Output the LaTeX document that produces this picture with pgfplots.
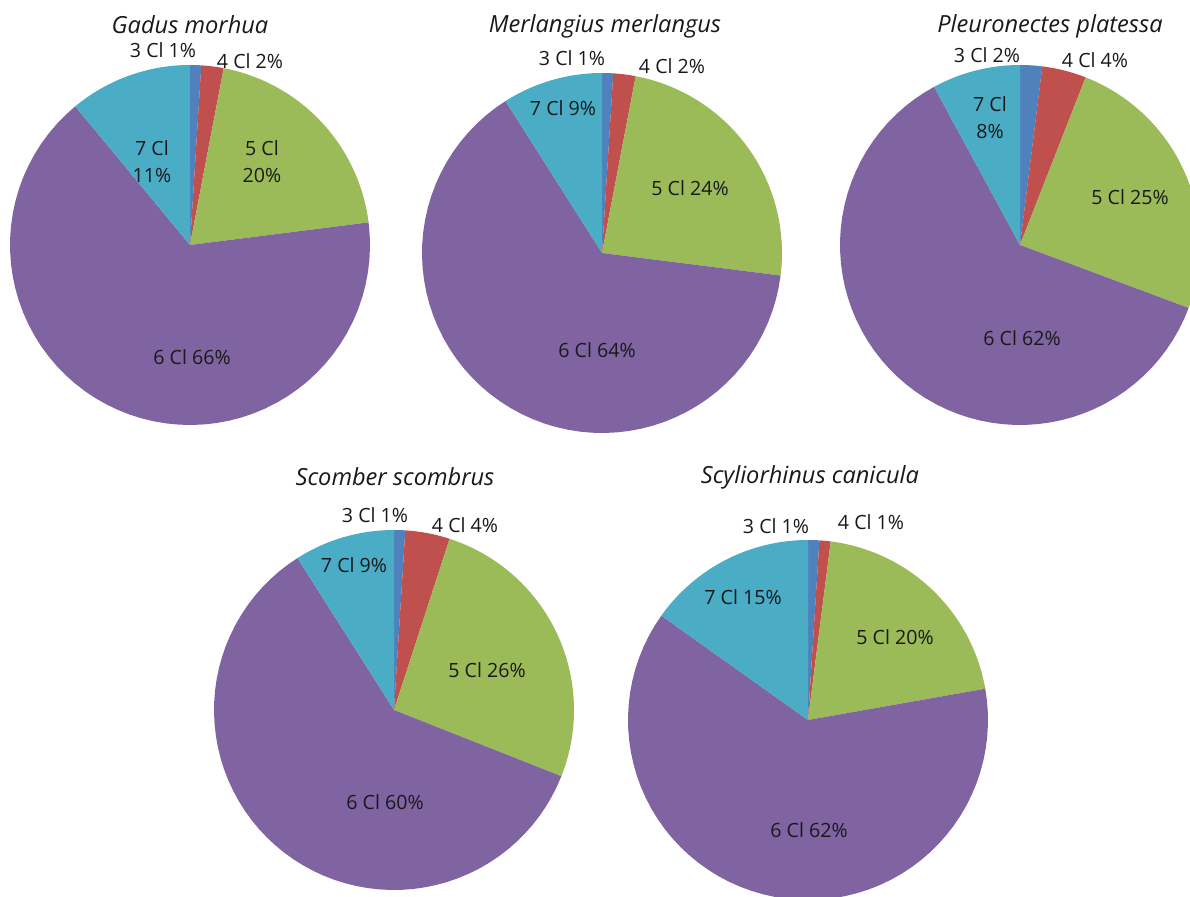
\documentclass[border=0pt]{standalone}
\usepackage{pgfplots}
\usepackage{pgfplotstable}
\pgfplotsset{compat=1.18}
\usepackage{fontspec}
\setmainfont{Open Sans}

\definecolor{cA}{HTML}{4F81BD}% 3 Cl
\definecolor{cB}{HTML}{C0504D}% 4 Cl
\definecolor{cC}{HTML}{9BBB59}% 5 Cl
\definecolor{cD}{HTML}{8064A2}% 6 Cl
\definecolor{cE}{HTML}{4BACC6}% 7 Cl

% share (%) of each chlorination class, one row per species
\pgfplotstableread{
species       c3 c4 c5 c6 c7
Gadus         1  2  20 66 11
Merlangius    1  2  24 64 9
Pleuronectes  2  4  25 62 8
Scomber       1  4  26 60 9
Scyliorhinus  1  1  20 62 15
}\shares

% one slice, angles clockwise from 12 o'clock
\newcommand{\slice}[3]{%
  \addplot[fill=#3, draw=none, domain=#1:#2, samples=60]
    ({sin(x)},{cos(x)}) -- (axis cs:0,0) -- cycle;}

% #1 row of \shares, #2 centre x, #3 centre y (pixels, y down)
\newcommand{\pie}[3]{%
  \pgfplotstablegetelem{#1}{c3}\of\shares\let\vA\pgfplotsretval
  \pgfplotstablegetelem{#1}{c4}\of\shares\let\vB\pgfplotsretval
  \pgfplotstablegetelem{#1}{c5}\of\shares\let\vC\pgfplotsretval
  \pgfplotstablegetelem{#1}{c6}\of\shares\let\vD\pgfplotsretval
  \pgfplotstablegetelem{#1}{c7}\of\shares\let\vE\pgfplotsretval
  \pgfmathsetmacro\tot{\vA+\vB+\vC+\vD+\vE}
  \pgfmathsetmacro\aA{\vA/\tot*360}
  \pgfmathsetmacro\aB{\aA+\vB/\tot*360}
  \pgfmathsetmacro\aC{\aB+\vC/\tot*360}
  \pgfmathsetmacro\aD{\aC+\vD/\tot*360}
  \pgfmathsetmacro\px{#2*0.5}
  \pgfmathsetmacro\py{(896-#3)*0.5}
  \begin{axis}[at={(\px pt,\py pt)}, anchor=origin, x=90pt, y=90pt,
      hide axis, xmin=-1, xmax=1, ymin=-1, ymax=1, clip=false]
    \slice{0}{\aA}{cA}
    \slice{\aA}{\aB}{cB}
    \slice{\aB}{\aC}{cC}
    \slice{\aC}{\aD}{cD}
    \slice{\aD}{360}{cE}
  \end{axis}}

\begin{document}
\begin{tikzpicture}
  \useasboundingbox (0,0) rectangle (595pt,448pt);
  \clip (0,0) rectangle (595pt,448pt);
  \fill[white] (0,0) rectangle (595pt,448pt);

  \pie{0}{190}{245}
  \pie{1}{602}{253}
  \pie{2}{1020}{245}
  \pie{3}{394}{710}
  \pie{4}{808}{720}

  \begin{scope}[x=0.5pt, y=-0.5pt, yshift=448pt,
      every node/.style={font=\fontsize{9.8}{13.5}\selectfont, text=black!90, align=center, inner sep=0pt}]
    % titles
    \node[font=\fontsize{11.8}{13}\selectfont\itshape] at (190,25) {Gadus morhua};
    \node[font=\fontsize{11.8}{13}\selectfont\itshape] at (605,26) {Merlangius merlangus};
    \node[font=\fontsize{11.8}{13}\selectfont\itshape] at (1050,26) {Pleuronectes platessa};
    \node[font=\fontsize{11.8}{13}\selectfont\itshape] at (395,477) {Scomber scombrus};
    \node[font=\fontsize{11.8}{13}\selectfont\itshape] at (810,477) {Scyliorhinus canicula};
    % Gadus morhua
    \node at (163,50) {3 Cl 1\%};
    \node at (250,61) {4 Cl 2\%};
    \node at (152,162) {7 Cl\\11\%};
    \node at (262,162) {5 Cl\\20\%};
    \node at (192,357) {6 Cl 66\%};
    % Merlangius merlangus
    \node at (572,58) {3 Cl 1\%};
    \node at (672,66) {4 Cl 2\%};
    \node at (563,108) {7 Cl 9\%};
    \node at (690,188) {5 Cl 24\%};
    \node at (597,350) {6 Cl 64\%};
    % Pleuronectes platessa
    \node at (987,55) {3 Cl 2\%};
    \node at (1095,60) {4 Cl 4\%};
    \node at (990,118) {7 Cl\\8\%};
    \node at (1130,197) {5 Cl 25\%};
    \node at (1022,338) {6 Cl 62\%};
    % Scomber scombrus
    \node at (375,515) {3 Cl 1\%};
    \node at (465,525) {4 Cl 4\%};
    \node at (354,565) {7 Cl 9\%};
    \node at (487,670) {5 Cl 26\%};
    \node at (385,802) {6 Cl 60\%};
    % Scyliorhinus canicula
    \node at (776,526) {3 Cl 1\%};
    \node at (871,522) {4 Cl 1\%};
    \node at (743,597) {7 Cl 15\%};
    \node at (895,637) {5 Cl 20\%};
    \node at (809,830) {6 Cl 62\%};
  \end{scope}
\end{tikzpicture}
\end{document}
